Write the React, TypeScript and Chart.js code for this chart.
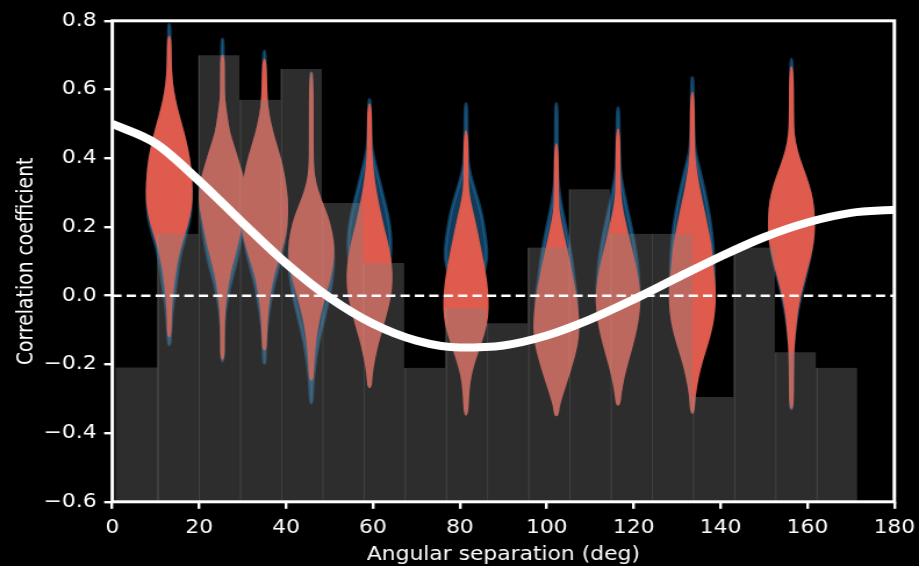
import { useEffect, useRef } from "react";
import { Chart, registerables } from "chart.js";

Chart.register(...registerables);

// Histogram of pulsar-pair separations: bin centres (deg) and bar tops (correlation units)
const binCenters = [5.57, 15.05, 24.53, 34.0, 43.48, 52.96, 62.44, 71.92, 81.4, 90.87, 100.35, 109.83, 119.31, 128.79, 138.27, 147.75, 157.22, 166.7];
const binTops = [-0.21, 0.18, 0.70, 0.57, 0.66, 0.27, 0.095, -0.21, -0.036, -0.08, 0.14, 0.31, 0.18, 0.18, -0.295, 0.14, -0.165, -0.21];
const histBase = -0.6;

// Expected correlation curve
const curveAngles = [0, 10, 20, 30, 40, 50, 60, 70, 80, 90, 100, 110, 120, 130, 140, 150, 160, 170, 180];
const curveValues = [0.5, 0.443, 0.334, 0.212, 0.094, -0.006, -0.082, -0.131, -0.151, -0.145, -0.116, -0.069, -0.011, 0.052, 0.114, 0.170, 0.213, 0.241, 0.25];

// Violin positions (deg)
const violinAngles = [13.1, 25.35, 35.0, 45.8, 59.2, 81.4, 102.2, 116.4, 133.5, 156.3];

// Outlines as [correlation, half-width in deg], top to bottom
const blueViolins: [number, number][][] = [
  [[0.79, 0.53], [0.669, 0.58], [0.62, 0.85], [0.572, 1.43], [0.523, 2.42], [0.474, 3.52], [0.426, 4.42], [0.377, 5.06], [0.328, 5.36], [0.28, 5.45], [0.231, 5.29], [0.183, 4.37], [0.134, 3.18], [0.085, 2.42], [0.037, 2.03], [-0.012, 1.38], [-0.06, 0.92], [-0.109, 0.69], [-0.143, 0.53]],
  [[0.747, 0.53], [0.62, 0.55], [0.572, 0.6], [0.523, 1.15], [0.474, 1.73], [0.426, 2.99], [0.377, 4.14], [0.328, 5.29], [0.28, 5.52], [0.231, 5.29], [0.183, 4.83], [0.134, 4.14], [0.085, 3.34], [0.037, 2.23], [-0.012, 1.45], [-0.06, 0.85], [-0.109, 0.6], [-0.19, 0.53]],
  [[0.712, 0.53], [0.572, 0.69], [0.523, 1.22], [0.474, 2.07], [0.426, 3.22], [0.377, 4.30], [0.328, 4.99], [0.28, 5.48], [0.231, 5.48], [0.183, 5.29], [0.134, 4.60], [0.085, 3.64], [0.037, 2.60], [-0.012, 1.84], [-0.06, 1.22], [-0.109, 0.81], [-0.157, 0.6], [-0.197, 0.53]],
  [[0.649, 0.5], [0.45, 0.55], [0.377, 0.58], [0.328, 1.08], [0.28, 2.30], [0.231, 3.91], [0.183, 4.90], [0.134, 5.45], [0.085, 5.52], [0.037, 5.06], [-0.012, 4.37], [-0.06, 3.45], [-0.109, 2.49], [-0.157, 1.73], [-0.206, 1.15], [-0.255, 0.74], [-0.313, 0.53]],
  [[0.572, 0.53], [0.45, 0.64], [0.401, 1.33], [0.353, 2.30], [0.304, 3.22], [0.256, 4.21], [0.207, 4.99], [0.158, 5.36], [0.110, 5.18], [0.061, 4.83], [0.013, 4.37], [-0.036, 3.68], [-0.085, 2.76], [-0.133, 1.84], [-0.182, 1.04], [-0.231, 0.6], [-0.26, 0.53]],
  [[0.559, 0.53], [0.401, 0.69], [0.353, 1.33], [0.304, 2.49], [0.256, 3.64], [0.207, 4.42], [0.158, 4.99], [0.110, 5.29], [0.061, 4.37], [0.013, 3.91], [-0.036, 3.45], [-0.085, 2.76], [-0.133, 2.07], [-0.182, 1.38], [-0.231, 0.81], [-0.30, 0.53]],
  [[0.559, 0.53], [0.40, 0.6], [0.343, 0.69], [0.295, 1.08], [0.246, 1.77], [0.198, 2.58], [0.149, 3.34], [0.100, 4.03], [0.051, 4.44], [0.003, 4.99], [-0.046, 5.18], [-0.095, 5.06], [-0.143, 4.37], [-0.192, 3.22], [-0.24, 2.07], [-0.289, 1.04], [-0.33, 0.53]],
  [[0.547, 0.53], [0.392, 0.69], [0.343, 1.08], [0.295, 1.77], [0.246, 2.60], [0.198, 3.45], [0.149, 4.21], [0.100, 4.79], [0.051, 5.13], [0.003, 5.29], [-0.046, 4.83], [-0.095, 4.14], [-0.143, 3.22], [-0.192, 2.19], [-0.24, 1.27], [-0.289, 0.69], [-0.31, 0.53]],
  [[0.635, 0.53], [0.44, 0.69], [0.392, 1.54], [0.343, 2.49], [0.295, 3.38], [0.246, 4.14], [0.198, 4.72], [0.149, 5.11], [0.100, 5.36], [0.051, 5.41], [0.003, 5.41], [-0.046, 5.06], [-0.095, 4.37], [-0.143, 3.34], [-0.192, 2.19], [-0.24, 1.27], [-0.289, 0.69], [-0.33, 0.53]],
  [[0.688, 0.53], [0.52, 0.6], [0.470, 0.69], [0.421, 1.43], [0.372, 2.76], [0.324, 4.14], [0.275, 5.13], [0.226, 5.41], [0.178, 5.41], [0.129, 4.95], [0.080, 4.14], [0.032, 3.18], [-0.017, 2.26], [-0.065, 1.57], [-0.114, 1.04], [-0.162, 0.69], [-0.25, 0.6], [-0.33, 0.53]],
];

const redViolins: [number, number][][] = [
  [[0.754, 0.53], [0.669, 0.58], [0.62, 0.85], [0.572, 1.43], [0.523, 2.42], [0.474, 3.52], [0.426, 4.42], [0.377, 5.06], [0.328, 5.36], [0.28, 5.45], [0.231, 4.88], [0.183, 3.75], [0.134, 2.53], [0.085, 1.73], [0.037, 1.22], [-0.012, 0.76], [-0.06, 0.58], [-0.119, 0.53]],
  [[0.70, 0.53], [0.62, 0.55], [0.572, 0.6], [0.523, 1.15], [0.474, 1.73], [0.426, 2.99], [0.377, 4.14], [0.328, 5.29], [0.28, 5.52], [0.231, 4.99], [0.183, 4.14], [0.134, 3.34], [0.085, 2.30], [0.037, 1.45], [-0.012, 0.92], [-0.06, 0.6], [-0.12, 0.53], [-0.185, 0.53]],
  [[0.688, 0.53], [0.572, 0.69], [0.523, 1.22], [0.474, 2.07], [0.426, 3.22], [0.377, 4.30], [0.328, 4.99], [0.28, 5.48], [0.231, 5.48], [0.183, 5.18], [0.134, 4.14], [0.085, 2.83], [0.037, 1.84], [-0.012, 1.22], [-0.06, 0.85], [-0.109, 0.62], [-0.158, 0.53]],
  [[0.649, 0.53], [0.45, 0.55], [0.377, 0.58], [0.328, 1.08], [0.28, 2.30], [0.231, 3.91], [0.183, 4.90], [0.134, 5.41], [0.085, 5.06], [0.037, 4.21], [-0.012, 3.06], [-0.06, 2.07], [-0.109, 1.38], [-0.157, 0.92], [-0.206, 0.64], [-0.245, 0.53]],
  [[0.557, 0.53], [0.45, 0.6], [0.401, 0.69], [0.353, 1.08], [0.304, 1.61], [0.256, 2.37], [0.207, 3.22], [0.158, 4.21], [0.110, 4.99], [0.061, 5.36], [0.013, 5.18], [-0.036, 4.37], [-0.085, 3.34], [-0.133, 2.23], [-0.182, 1.31], [-0.231, 0.69], [-0.267, 0.53]],
  [[0.479, 0.53], [0.353, 0.6], [0.304, 0.69], [0.256, 1.45], [0.207, 2.37], [0.158, 3.15], [0.110, 3.91], [0.061, 4.67], [0.013, 5.13], [-0.036, 5.29], [-0.085, 4.88], [-0.133, 3.75], [-0.182, 2.37], [-0.231, 1.27], [-0.28, 0.76], [-0.347, 0.53]],
  [[0.442, 0.53], [0.295, 0.6], [0.246, 0.69], [0.198, 1.45], [0.149, 2.30], [0.100, 3.15], [0.051, 3.91], [0.003, 4.67], [-0.046, 5.13], [-0.095, 5.36], [-0.143, 4.99], [-0.192, 3.98], [-0.240, 2.81], [-0.289, 1.54], [-0.32, 0.81], [-0.349, 0.53]],
  [[0.484, 0.53], [0.343, 0.6], [0.295, 0.69], [0.246, 1.22], [0.198, 2.07], [0.149, 2.95], [0.100, 3.96], [0.051, 4.72], [0.003, 5.22], [-0.046, 5.06], [-0.095, 4.44], [-0.143, 3.52], [-0.192, 2.42], [-0.240, 1.43], [-0.289, 0.76], [-0.318, 0.53]],
  [[0.591, 0.53], [0.44, 0.6], [0.392, 0.76], [0.343, 1.33], [0.295, 2.03], [0.246, 2.88], [0.198, 3.64], [0.149, 4.42], [0.100, 4.79], [0.051, 5.22], [0.003, 5.45], [-0.046, 5.29], [-0.095, 4.67], [-0.143, 3.61], [-0.192, 2.37], [-0.240, 1.45], [-0.289, 0.76], [-0.342, 0.53]],
  [[0.666, 0.53], [0.52, 0.6], [0.470, 0.69], [0.421, 1.43], [0.372, 2.76], [0.324, 4.14], [0.275, 5.13], [0.226, 5.41], [0.178, 5.41], [0.129, 4.83], [0.080, 3.84], [0.032, 2.83], [-0.017, 1.91], [-0.065, 1.31], [-0.114, 0.97], [-0.162, 0.64], [-0.25, 0.58], [-0.328, 0.53]],
];

const FONT = "'DejaVu Sans', sans-serif";
const TEXT_SIZE = 18.8;
const LOGICAL_W = 791;
const LOGICAL_H = 566;

type Pt = { px: number; py: number };

function traceViolin(ctx: CanvasRenderingContext2D, xs: any, ys: any, center: number, profile: [number, number][], inset: number) {
  const cx = xs.getPixelForValue(center);
  const right: Pt[] = profile.map(([v, w]) => {
    const hw = Math.max(xs.getPixelForValue(center + w) - cx - inset, 0.6);
    return { px: cx + hw, py: ys.getPixelForValue(v) };
  });
  const left: Pt[] = right.slice().reverse().map((p) => ({ px: 2 * cx - p.px, py: p.py }));
  const pts = [...right, ...left];
  const n = pts.length;
  const mid = (a: Pt, b: Pt): Pt => ({ px: (a.px + b.px) / 2, py: (a.py + b.py) / 2 });
  const start = mid(pts[n - 1], pts[0]);
  ctx.beginPath();
  ctx.moveTo(start.px, start.py);
  for (let i = 0; i < n; i++) {
    const p = pts[i];
    const m = mid(p, pts[(i + 1) % n]);
    ctx.quadraticCurveTo(p.px, p.py, m.px, m.py);
  }
  ctx.closePath();
}

const violinPlugin = {
  id: "violins",
  beforeDatasetsDraw(chart: any) {
    const { ctx, chartArea, scales } = chart;
    const xs = scales.x;
    const ys = scales.y;
    ctx.save();
    ctx.beginPath();
    ctx.rect(chartArea.left, chartArea.top, chartArea.right - chartArea.left, chartArea.bottom - chartArea.top);
    ctx.clip();
    ctx.lineJoin = "round";
    ctx.lineCap = "round";
    const layers: { profiles: [number, number][][]; color: string; lw: number }[] = [
      { profiles: blueViolins, color: "rgba(31,119,180,0.5)", lw: 3 },
      { profiles: redViolins, color: "rgb(222,91,77)", lw: 1.5 },
    ];
    for (const layer of layers) {
      layer.profiles.forEach((profile, i) => {
        traceViolin(ctx, xs, ys, violinAngles[i], profile, layer.lw / 2);
        ctx.fillStyle = layer.color;
        ctx.fill();
        ctx.strokeStyle = layer.color;
        ctx.lineWidth = layer.lw;
        ctx.stroke();
      });
    }
    ctx.restore();
  },
};

const framePlugin = {
  id: "frame",
  afterDatasetsDraw(chart: any) {
    const { ctx, chartArea } = chart;
    ctx.save();
    ctx.strokeStyle = "#ffffff";
    ctx.lineWidth = 3;
    ctx.strokeRect(chartArea.left, chartArea.top, chartArea.right - chartArea.left, chartArea.bottom - chartArea.top);
    ctx.restore();
  },
};

const fmtCorr = (v: number) => {
  const n = Math.abs(v) < 1e-9 ? 0 : v;
  return n.toFixed(1).replace("-", "\u2212");
};

export default function App() {
  const canvasRef = useRef<HTMLCanvasElement>(null);

  useEffect(() => {
    const canvas = canvasRef.current;
    if (!canvas) return;

    const chart = new Chart(canvas, {
      type: "bar",
      data: {
        datasets: [
          {
            type: "line",
            data: curveAngles.map((a, i) => ({ x: a, y: curveValues[i] })),
            borderColor: "#ffffff",
            borderWidth: 8,
            pointRadius: 0,
            cubicInterpolationMode: "monotone",
            fill: false,
            clip: 0,
            order: 1,
          } as any,
          {
            type: "line",
            data: [
              { x: 0, y: 0 },
              { x: 180, y: 0 },
            ],
            borderColor: "#ffffff",
            borderWidth: 2.5,
            borderDash: [8, 4.4],
            pointRadius: 0,
            fill: false,
            order: 2,
          } as any,
          {
            type: "bar",
            data: binCenters.map((c, i) => ({ x: c, y: [histBase, binTops[i]] })),
            backgroundColor: "rgba(130,130,130,0.35)",
            borderColor: "rgba(160,160,160,0.3)",
            borderWidth: (c: any) => (c.dataIndex === 0 ? 0 : { left: 1, right: 0, top: 0, bottom: 0 }),
            borderSkipped: false,
            barPercentage: 1,
            categoryPercentage: 1,
            grouped: false,
            order: 3,
          } as any,
        ],
      },
      options: {
        responsive: false,
        animation: false,
        devicePixelRatio: 1,
        events: [],
        layout: { padding: { top: 20.8, right: 21.2, left: 0, bottom: 0 } },
        plugins: { legend: { display: false }, tooltip: { enabled: false } },
        scales: {
          x: {
            type: "linear",
            min: 0,
            max: 180,
            offset: false,
            ticks: {
              stepSize: 20,
              color: "#ffffff",
              font: { family: FONT, size: TEXT_SIZE },
              padding: 8.5,
              maxRotation: 0,
              autoSkip: false,
            },
            grid: { offset: false, drawOnChartArea: false, drawTicks: true, tickLength: 7, color: "#ffffff", lineWidth: 2.4 },
            border: { display: false },
            title: {
              display: true,
              text: "Angular separation (deg)",
              color: "#ffffff",
              font: { family: FONT, size: TEXT_SIZE },
              padding: { top: 0, bottom: 0 },
            },
            afterFit(scale: any) {
              scale.height = 64.2;
              scale.paddingLeft = 0;
              scale.paddingRight = 0;
            },
          },
          y: {
            type: "linear",
            min: -0.6,
            max: 0.8,
            ticks: {
              stepSize: 0.2,
              color: "#ffffff",
              font: { family: FONT, size: TEXT_SIZE },
              padding: 6.5,
              callback: (v: any) => fmtCorr(Number(v)),
            },
            grid: { drawOnChartArea: false, drawTicks: true, tickLength: 7, color: "#ffffff", lineWidth: 2.4 },
            border: { display: false },
            title: {
              display: true,
              text: "Correlation coefficient",
              color: "#ffffff",
              font: { family: FONT, size: TEXT_SIZE },
              padding: { top: 12, bottom: 0 },
            },
            afterFit(scale: any) {
              scale.width = 96.66;
              scale.paddingTop = 0;
              scale.paddingBottom = 0;
            },
          },
        },
      } as any,
      plugins: [violinPlugin, framePlugin],
    });

    return () => chart.destroy();
  }, []);

  return (
    <div style={{ position: "fixed", left: 0, top: 0, width: 919, height: 566, background: "#000", overflow: "hidden" }}>
      <canvas
        ref={canvasRef}
        width={LOGICAL_W}
        height={LOGICAL_H}
        style={{ display: "block", width: "919px", height: "566px" }}
      />
    </div>
  );
}
